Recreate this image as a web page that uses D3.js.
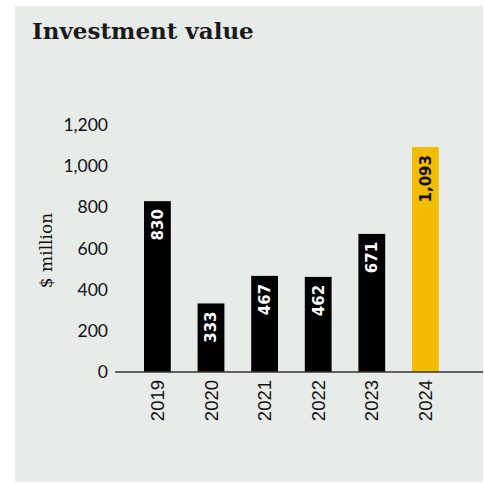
<!DOCTYPE html>
<html>
<head>
<meta charset="utf-8">
<script src="https://cdn.jsdelivr.net/npm/d3@7"></script>
<style>
  html, body { margin: 0; padding: 0; background: #ffffff; }
  svg { display: block; }
</style>
</head>
<body>
<script>
// Annual investment value, $ million
const years = ["2019", "2020", "2021", "2022", "2023", "2024"];
const values = [830, 333, 467, 462, 671, 1093];
const yTicks = [0, 200, 400, 600, 800, 1000, 1200];
const highlightYear = "2024";

const W = 484, H = 483;
const svg = d3.select("body").append("svg").attr("width", W).attr("height", H);

// panel background
svg.append("rect")
  .attr("x", 15).attr("y", 6).attr("width", W - 16).attr("height", H - 7)
  .attr("fill", "#e8ece9");

svg.append("text")
  .attr("x", 32).attr("y", 39)
  .attr("font-family", "'DejaVu Serif', serif")
  .attr("font-weight", "bold")
  .attr("font-size", 23)
  .attr("fill", "#1a1a1a")
  .text("Investment value");

const x = d3.scaleBand().domain(years).range([130.6, 452.2])
  .paddingInner(0.5).paddingOuter(0.25);
const y = d3.scaleLinear().domain([0, 1200]).range([372, 125]);

const fmt = d3.format(",");

// y tick labels (no tick marks)
const yAxis = svg.append("g").attr("transform", "translate(108,0)")
  .call(d3.axisLeft(y).tickValues(yTicks).tickFormat(fmt).tickSize(0).tickPadding(0));
yAxis.select(".domain").remove();
yAxis.selectAll("text")
  .attr("font-family", "Lato, sans-serif")
  .attr("font-size", 17.5)
  .attr("fill", "#111");

svg.append("text")
  .attr("transform", `translate(52,${y(600) + 2}) rotate(-90)`)
  .attr("text-anchor", "middle")
  .attr("font-family", "'DejaVu Serif', serif")
  .attr("font-size", 17)
  .attr("fill", "#111")
  .text("$ million");

// bars
svg.append("g").selectAll("rect").data(years).join("rect")
  .attr("x", d => x(d))
  .attr("y", (d, i) => y(values[i]))
  .attr("width", x.bandwidth())
  .attr("height", (d, i) => y(0) - y(values[i]))
  .attr("fill", d => d === highlightYear ? "#f2bc00" : "#000");

// value labels inside bars
svg.append("g").selectAll("text").data(years).join("text")
  .attr("transform", (d, i) => `translate(${x(d) + x.bandwidth() / 2},${y(values[i]) + 8}) rotate(-90)`)
  .attr("text-anchor", "end")
  .attr("dy", "0.36em")
  .attr("font-family", "'DejaVu Sans', sans-serif")
  .attr("font-weight", "bold")
  .attr("font-size", 15)
  .attr("fill", d => d === highlightYear ? "#111" : "#fff")
  .text((d, i) => fmt(values[i]));

// x axis baseline
svg.append("line")
  .attr("x1", 115).attr("x2", 483)
  .attr("y1", y(0)).attr("y2", y(0))
  .attr("stroke", "#333").attr("stroke-width", 1.5);

// year labels
const xAxis = svg.append("g").attr("transform", `translate(0,${y(0)})`)
  .call(d3.axisBottom(x).tickSize(0).tickPadding(0));
xAxis.select(".domain").remove();
xAxis.selectAll("text")
  .attr("transform", "translate(0,8) rotate(-90)")
  .attr("text-anchor", "end")
  .attr("y", 0)
  .attr("dy", "0.36em")
  .attr("font-family", "'Liberation Sans', Arial, sans-serif")
  .attr("font-size", 18.5)
  .attr("fill", "#111");
</script>
</body>
</html>
